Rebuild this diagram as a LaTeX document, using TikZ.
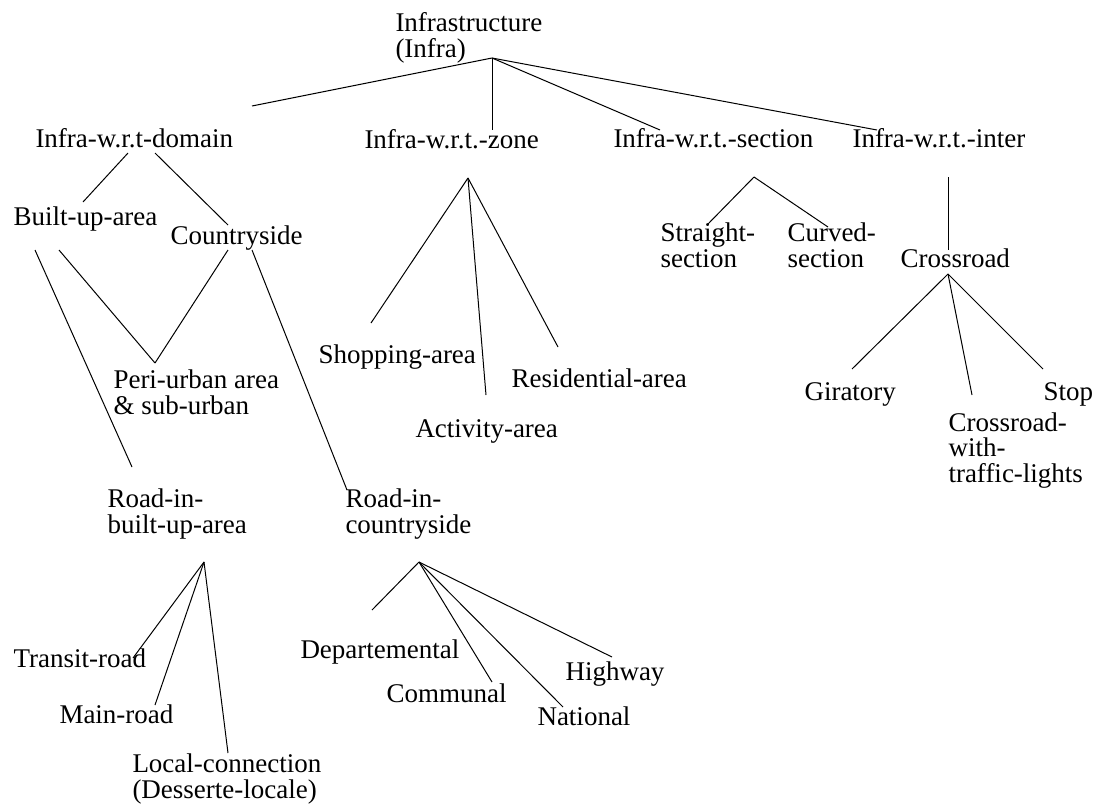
\documentclass[tikz,border=0pt]{standalone}
\usepackage{fontspec}
\setmainfont{Liberation Serif}
\usepackage{tikz}

\tikzset{
  lbl/.style={anchor=base west, inner sep=0pt, align=left,
    font=\fontsize{27}{25.5}\selectfont},
}

\begin{document}
\begin{tikzpicture}[x=1pt,y=-1pt,line width=1pt]
\useasboundingbox (0,0) rectangle (1097,807);
% labels, placed by the start of their last baseline
\node[lbl] (Infra) at (395,57) {Infrastructure\\(Infra)};
\node[lbl] (Dom) at (35,147) {Infra-w.r.t-domain};
\node[lbl] (Zone) at (364,148) {Infra-w.r.t.-zone};
\node[lbl] (Sec) at (613,147) {Infra-w.r.t.-section};
\node[lbl] (Inter) at (852,147) {Infra-w.r.t.-inter};
\node[lbl] (BUA) at (13,225) {Built-up-area};
\node[lbl] (Ctry) at (170,244) {Countryside};
\node[lbl] (Peri) at (113,414) {Peri-urban area\\\& sub-urban};
\node[lbl] (RBUA) at (107,533) {Road-in-\\built-up-area};
\node[lbl] (RCtry) at (345,533) {Road-in-\\countryside};
\node[lbl] (Transit) at (13,667) {Transit-road};
\node[lbl] (Main) at (59,723) {Main-road};
\node[lbl] (Local) at (132,798) {Local-connection\\(Desserte-locale)};
\node[lbl] (Dept) at (300,658) {Departemental};
\node[lbl] (Comm) at (386,702) {Communal};
\node[lbl] (Nat) at (537,725) {National};
\node[lbl] (High) at (565,680) {Highway};
\node[lbl] (Shop) at (318,363) {Shopping-area};
\node[lbl] (Act) at (415,437) {Activity-area};
\node[lbl] (Res) at (511,387) {Residential-area};
\node[lbl] (Str) at (660,267) {Straight-\\section};
\node[lbl] (Curv) at (787,267) {Curved-\\section};
\node[lbl] (Cross) at (900,267) {Crossroad};
\node[lbl] (Gir) at (804,400) {Giratory};
\node[lbl] (CwTL) at (948,482) {Crossroad-\\with-\\traffic-lights};
\node[lbl] (Stop) at (1043,400) {Stop};

% meeting points under the parents
\coordinate (Infra-hub) at ([shift={(97,1)}]Infra.base west);
\coordinate (Zone-hub) at ([shift={(104,30)}]Zone.base west);
\coordinate (Sec-hub) at ([shift={(141,30)}]Sec.base west);
\coordinate (Cross-hub) at ([shift={(48,7)}]Cross.base west);
\coordinate (RBUA-hub) at ([shift={(97,29)}]RBUA.base west);
\coordinate (RCtry-hub) at ([shift={(74,29)}]RCtry.base west);

\path[draw]
  (Infra-hub) edge ([shift={(217,-41)}]Dom.base west)
              edge ([shift={(128,-18)}]Zone.base west)
              edge ([shift={(47,-17)}]Sec.base west)
              edge ([shift={(25,-17)}]Inter.base west)
  ([shift={(93,6)}]Dom.base west) edge ([shift={(70,-23)}]BUA.base west)
  ([shift={(120,6)}]Dom.base west) edge ([shift={(58,-19)}]Ctry.base west)
  ([shift={(22,25)}]BUA.base west) edge ([shift={(25,-66)}]RBUA.base west)
  ([shift={(46,25)}]BUA.base west) edge ([shift={(42,-51)}]Peri.base west)
  ([shift={(58,6)}]Ctry.base west) edge ([shift={(42,-51)}]Peri.base west)
  ([shift={(82,6)}]Ctry.base west) edge ([shift={(2,-43)}]RCtry.base west)
  (Zone-hub) edge ([shift={(53,-40)}]Shop.base west)
             edge ([shift={(71,-42)}]Act.base west)
             edge ([shift={(47,-40)}]Res.base west)
  (Sec-hub) edge ([shift={(47,-42)}]Str.base west)
            edge ([shift={(41,-40)}]Curv.base west)
  ([shift={(96,30)}]Inter.base west) edge ([shift={(48,-17)}]Cross.base west)
  (Cross-hub) edge ([shift={(48,-31)}]Gir.base west)
              edge ([shift={(24,-87)}]CwTL.base west)
              edge ([shift={(0,-31)}]Stop.base west)
  (RBUA-hub) edge ([shift={(120,-9)}]Transit.base west)
             edge ([shift={(96,-18)}]Main.base west)
             edge ([shift={(96,-45)}]Local.base west)
  (RCtry-hub) edge ([shift={(72,-48)}]Dept.base west)
              edge ([shift={(106,-20)}]Comm.base west)
              edge ([shift={(26,-18)}]Nat.base west)
              edge ([shift={(47,-23)}]High.base west);
\end{tikzpicture}
\end{document}
